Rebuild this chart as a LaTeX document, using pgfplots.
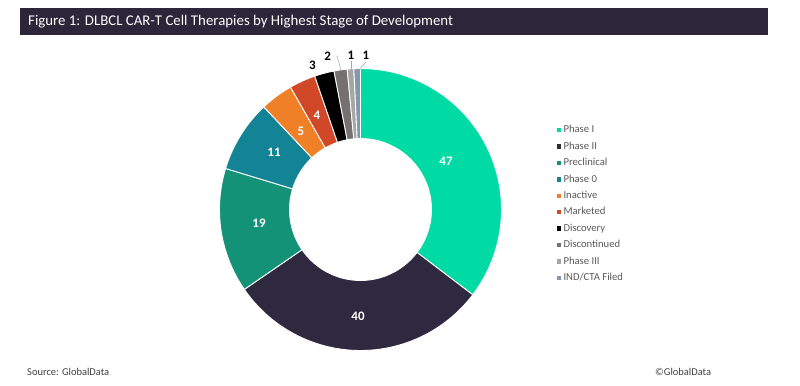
\documentclass[border=0pt]{standalone}
\usepackage{pgfplots}
\pgfplotsset{compat=1.18}
\usepackage{pgfplotstable}
\usepackage{fontspec}
\setmainfont{Carlito}

\definecolor{c0}{RGB}{0,218,164}
\definecolor{c1}{RGB}{46,41,62}
\definecolor{c2}{RGB}{20,146,120}
\definecolor{c3}{RGB}{19,131,150}
\definecolor{c4}{RGB}{240,128,40}
\definecolor{c5}{RGB}{208,72,40}
\definecolor{c6}{RGB}{0,0,0}
\definecolor{c7}{RGB}{118,113,113}
\definecolor{c8}{RGB}{166,166,166}
\definecolor{c9}{RGB}{132,151,176}
\definecolor{titlebg}{RGB}{44,38,58}
\definecolor{legtext}{RGB}{89,89,89}
\definecolor{leader}{RGB}{166,166,166}

\pgfplotstableread[col sep=comma]{
label,value
Phase I,47
Phase II,40
Preclinical,19
Phase 0,11
Inactive,5
Marketed,4
Discovery,3
Discontinued,2
Phase III,1
IND/CTA Filed,1
}\stages

\newcommand{\cx}{360.5}
\newcommand{\cy}{175.5}
\newcommand{\Ro}{141}
\newcommand{\Ri}{71}
\newcommand{\nseg}{48}

\begin{document}
\begin{tikzpicture}
\begin{axis}[
  x=1bp, y=1bp,
  xmin=0, xmax=800, ymin=0, ymax=385,
  enlargelimits=false,
  hide axis, clip=false,
  legend cell align=left,
  legend style={
    draw=none, fill=none, inner sep=0pt,
    at={(0.6955,0.6779)}, anchor=north west,
    font=\fontsize{10.7}{12}\selectfont, text=legtext,
    row sep=4.95bp,
    nodes={inner sep=1bp, text height=7.5bp, text depth=2bp},
    /tikz/every odd column/.append style={column sep=1.5bp},
  },
  legend image code/.code={\fill[#1,draw=none] (0bp,-2.2bp) rectangle (4.4bp,2.2bp);},
]
\coordinate (SW) at (axis cs:0,0);
\coordinate (NE) at (axis cs:800,385);

% total
\pgfmathsetmacro{\total}{0}
\pgfplotsforeachungrouped \i in {0,...,9}{%
  \pgfplotstablegetelem{\i}{value}\of\stages
  \pgfmathsetmacro{\total}{\total+\pgfplotsretval}%
}

\pgfmathsetmacro{\cum}{0}
\pgfplotsforeachungrouped \i in {0,...,9}{%
  \pgfplotstablegetelem{\i}{value}\of\stages
  \let\val\pgfplotsretval
  \pgfplotstablegetelem{\i}{label}\of\stages
  \let\lab\pgfplotsretval
  \pgfmathsetmacro{\angA}{90-360*(\cum/\total)}%
  \pgfmathsetmacro{\angB}{90-360*((\cum+\val)/\total)}%
  \gdef\coords{}%
  \foreach \k in {0,...,\nseg}{%
    \pgfmathsetmacro{\ang}{\angA+(\angB-\angA)*(\k/\nseg)}%
    \pgfmathsetmacro{\px}{\cx+\Ro*cos(\ang)}%
    \pgfmathsetmacro{\py}{\cy+\Ro*sin(\ang)}%
    \xdef\coords{\coords(\px,\py)}%
  }%
  \foreach \k in {\nseg,...,0}{%
    \pgfmathsetmacro{\ang}{\angA+(\angB-\angA)*(\k/\nseg)}%
    \pgfmathsetmacro{\px}{\cx+\Ri*cos(\ang)}%
    \pgfmathsetmacro{\py}{\cy+\Ri*sin(\ang)}%
    \xdef\coords{\coords(\px,\py)}%
  }%
  \pgfmathsetmacro{\px}{\cx+\Ro*cos(\angA)}%
  \pgfmathsetmacro{\py}{\cy+\Ro*sin(\angA)}%
  \xdef\coords{\coords(\px,\py)}%
  \edef\temp{\noexpand\addplot[fill=c\i, draw=white, line width=0.9pt, line join=round] coordinates {\coords};
    \noexpand\addlegendentry{\lab}}%
  \temp
  \pgfmathsetmacro{\cum}{\cum+\val}%
}

% leader lines
\addplot[leader, line width=0.5pt, forget plot] coordinates {(333,329) (337,329) (341,315)};
\addplot[leader, line width=0.5pt, forget plot] coordinates {(351.5,324) (351.5,315)};
\addplot[leader, line width=0.5pt, forget plot] coordinates {(366,323) (358,314)};

% data labels
\begin{scope}[every node/.style={font=\fontsize{13}{15}\selectfont\bfseries}]
\node[white] at (axis cs:446,224) {47};
\node[white] at (axis cs:358,69) {40};
\node[white] at (axis cs:259,162) {19};
\node[white] at (axis cs:274,233) {11};
\node[white] at (axis cs:301,254) {5};
\node[white] at (axis cs:317,270) {4};
\node[black] at (axis cs:312.3,319.3) {3};
\node[black] at (axis cs:327.7,328.3) {2};
\node[black] at (axis cs:351,330) {1};
\node[black] at (axis cs:366,329.3) {1};
\end{scope}

% title bar
\fill[titlebg] (axis cs:20,350) rectangle (axis cs:768,377);
\node[anchor=west, white, font=\fontsize{14.9}{17}\selectfont, inner sep=0pt] at (axis cs:28,363.5) {Figure 1: DLBCL CAR-T Cell Therapies by Highest Stage of Development};

% footer
\node[anchor=west, text=black!75, font=\fontsize{10.5}{12}\selectfont, inner sep=0pt] at (axis cs:27,13) {Source: GlobalData};
\node[anchor=west, text=black!75, font=\fontsize{10.5}{12}\selectfont, inner sep=0pt] at (axis cs:655,13) {©GlobalData};
\end{axis}
\pgfresetboundingbox
\path[use as bounding box] (SW) rectangle (NE);
\end{tikzpicture}
\end{document}
